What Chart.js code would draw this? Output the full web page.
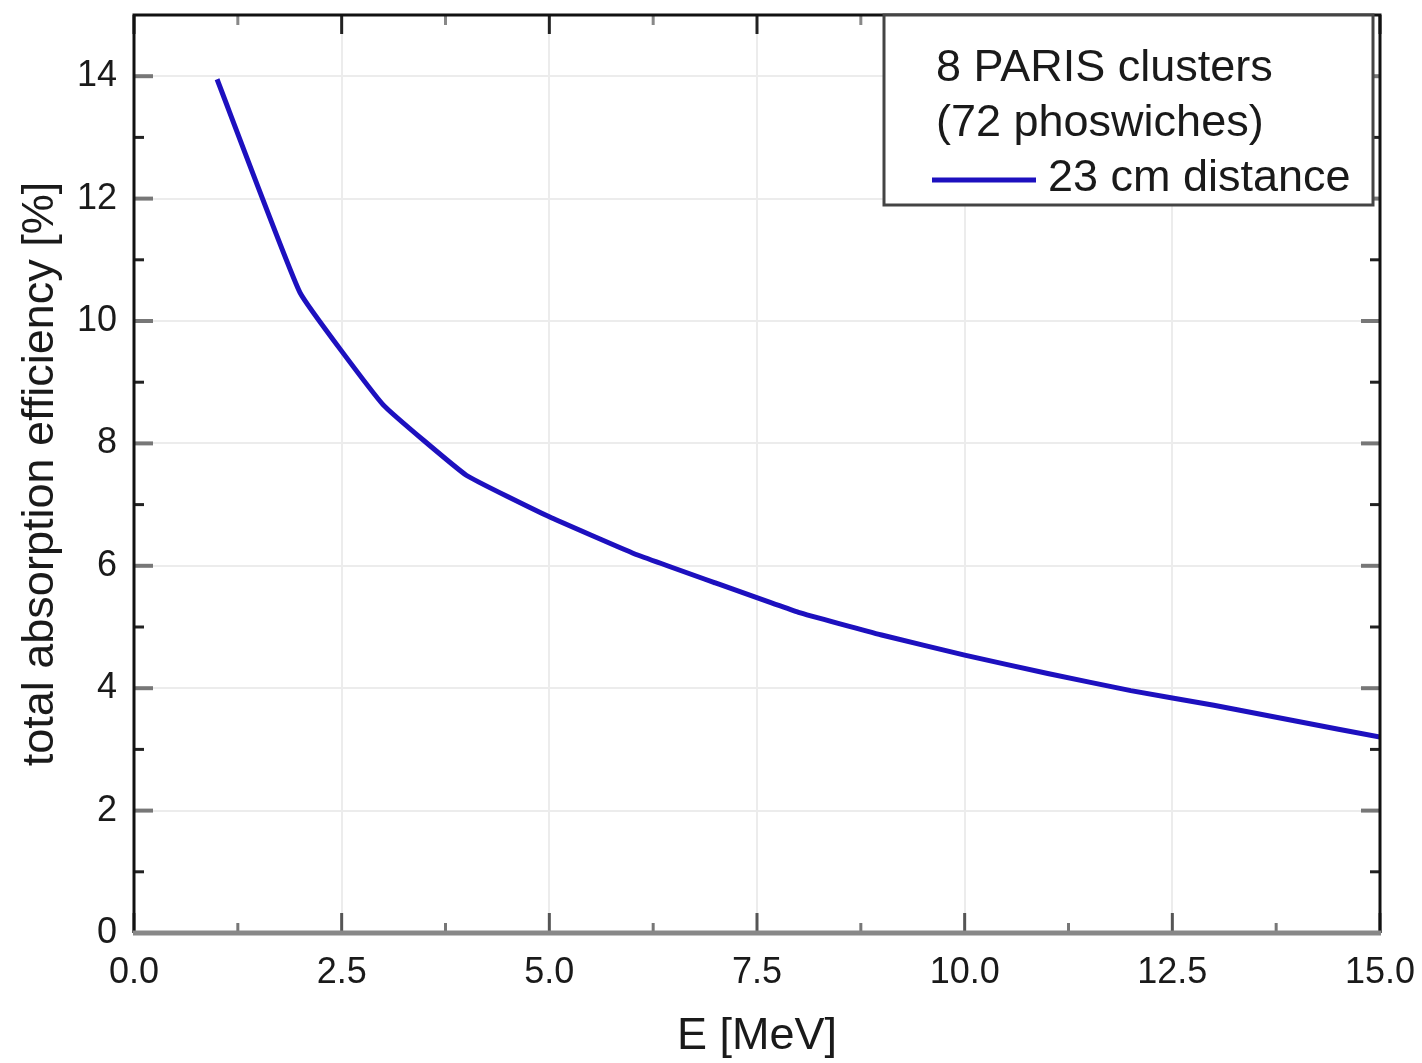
<!DOCTYPE html>
<html>
<head>
<meta charset="utf-8">
<script src="https://cdn.jsdelivr.net/npm/chart.js@4"></script>
<style>
  body { margin: 0; background: #fff; }
  #wrap { position: relative; width: 1422px; height: 1063px; }
</style>
</head>
<body>
<div id="wrap"><canvas id="chart"></canvas></div>
<script>
// values
const energy = [1, 2, 3, 4, 5, 6, 7, 8, 9, 10, 11, 12, 13, 14, 15];
const efficiency = [13.95, 10.46, 8.63, 7.48, 6.80, 6.21, 5.72, 5.24, 4.87, 4.54, 4.24, 3.96, 3.72, 3.46, 3.20];

const xTicks = [0, 2.5, 5, 7.5, 10, 12.5, 15];
const xMinorTicks = [1.25, 3.75, 6.25, 8.75, 11.25, 13.75];
const yTicks = [0, 2, 4, 6, 8, 10, 12, 14];
const yMinorTicks = [1, 3, 5, 7, 9, 11, 13];

const legendLines = ['8 PARIS clusters', '(72 phoswiches)'];
const seriesLabel = '23 cm distance';

const FONT = "'Liberation Sans', Arial, sans-serif";
const LINE_COLOR = '#1d10bf';

// frame, inward ticks and legend box
const framePlugin = {
  id: 'frame',
  afterDatasetsDraw(chart) {
    const { ctx, chartArea: a, scales: { x, y } } = chart;
    ctx.save();

    ctx.lineCap = 'butt';
    const tick = (x1, y1, x2, y2, color, w) => {
      ctx.strokeStyle = color;
      ctx.lineWidth = w;
      ctx.beginPath();
      ctx.moveTo(x1, y1);
      ctx.lineTo(x2, y2);
      ctx.stroke();
    };
    yTicks.forEach(v => {
      const py = y.getPixelForValue(v);
      tick(a.left, py, a.left + 19, py, '#777', 4);
      tick(a.right, py, a.right - 19, py, '#777', 4);
    });
    yMinorTicks.forEach(v => {
      const py = y.getPixelForValue(v);
      tick(a.left, py, a.left + 10, py, '#222', 3);
      tick(a.right, py, a.right - 10, py, '#222', 3);
    });
    xTicks.forEach(v => {
      const px = x.getPixelForValue(v);
      tick(px, a.bottom, px, a.bottom - 20, '#555', 3);
      tick(px, a.top, px, a.top + 19, '#222', 3);
    });
    xMinorTicks.forEach(v => {
      const px = x.getPixelForValue(v);
      tick(px, a.bottom, px, a.bottom - 10, '#777', 3);
      tick(px, a.top, px, a.top + 10, '#888', 3);
    });

    // frame: black left/top/right, grey bottom
    ctx.strokeStyle = '#111';
    ctx.lineWidth = 3;
    ctx.beginPath();
    ctx.moveTo(a.left, a.bottom);
    ctx.lineTo(a.left, a.top);
    ctx.lineTo(a.right, a.top);
    ctx.lineTo(a.right, a.bottom);
    ctx.stroke();
    ctx.strokeStyle = '#888';
    ctx.lineWidth = 5;
    ctx.beginPath();
    ctx.moveTo(a.left - 1, a.bottom);
    ctx.lineTo(a.right + 1, a.bottom);
    ctx.stroke();

    // legend box
    const bx = 884, by = a.top, bw = 489, bh = 190;
    ctx.fillStyle = '#fff';
    ctx.fillRect(bx, by, bw, bh);
    ctx.strokeStyle = '#444';
    ctx.lineWidth = 3;
    ctx.strokeRect(bx, by, bw, bh);

    ctx.fillStyle = '#1a1a1a';
    ctx.font = '45px ' + FONT;
    ctx.textBaseline = 'middle';
    ctx.textAlign = 'left';
    legendLines.forEach((t, i) => ctx.fillText(t, 936, 69 + i * 55));
    tick(932, 180, 1036, 180, LINE_COLOR, 5);
    ctx.fillText(seriesLabel, 1048, 179);

    ctx.restore();
  }
};

new Chart(document.getElementById('chart'), {
  type: 'line',
  data: {
    labels: energy,
    datasets: [{
      label: seriesLabel,
      data: energy.map((e, i) => ({ x: e, y: efficiency[i] })),
      borderColor: LINE_COLOR,
      borderWidth: 5,
      pointRadius: 0,
      tension: 0.1,
      fill: false,
    }]
  },
  options: {
    responsive: true,
    maintainAspectRatio: false,
    animation: false,
    layout: { padding: { top: 15, right: 42, bottom: 0, left: 0 } },
    plugins: {
      legend: { display: false },
      tooltip: { enabled: false },
    },
    scales: {
      x: {
        type: 'linear',
        min: 0,
        max: 15,
        afterBuildTicks: axis => { axis.ticks = xTicks.map(v => ({ value: v })); },
        afterFit: axis => {
          axis.height = 130;
          axis.paddingLeft = 0;
          axis.paddingRight = 0;
        },
        grid: { color: '#ececec', lineWidth: 2, drawTicks: false },
        border: { display: false },
        ticks: {
          padding: 18,
          color: '#1a1a1a',
          font: { family: FONT, size: 36 },
          maxRotation: 0,
          callback: v => v.toFixed(1),
        },
        title: {
          display: true,
          text: 'E [MeV]',
          color: '#1a1a1a',
          font: { family: FONT, size: 45, lineHeight: 1 },
          padding: { top: 0, bottom: 4 },
        },
      },
      y: {
        type: 'linear',
        min: 0,
        max: 15,
        afterBuildTicks: axis => { axis.ticks = yTicks.map(v => ({ value: v })); },
        afterFit: axis => {
          axis.width = 134;
          axis.paddingTop = 0;
          axis.paddingBottom = 0;
        },
        grid: { color: '#ececec', lineWidth: 2, drawTicks: false },
        border: { display: false },
        ticks: {
          padding: 17,
          color: '#1a1a1a',
          font: { family: FONT, size: 36 },
        },
        title: {
          display: true,
          text: 'total absorption efficiency [%]',
          color: '#1a1a1a',
          font: { family: FONT, size: 45, lineHeight: 1 },
          padding: { top: 18, bottom: 0 },
        },
      },
    },
  },
  plugins: [framePlugin],
});
</script>
</body>
</html>
